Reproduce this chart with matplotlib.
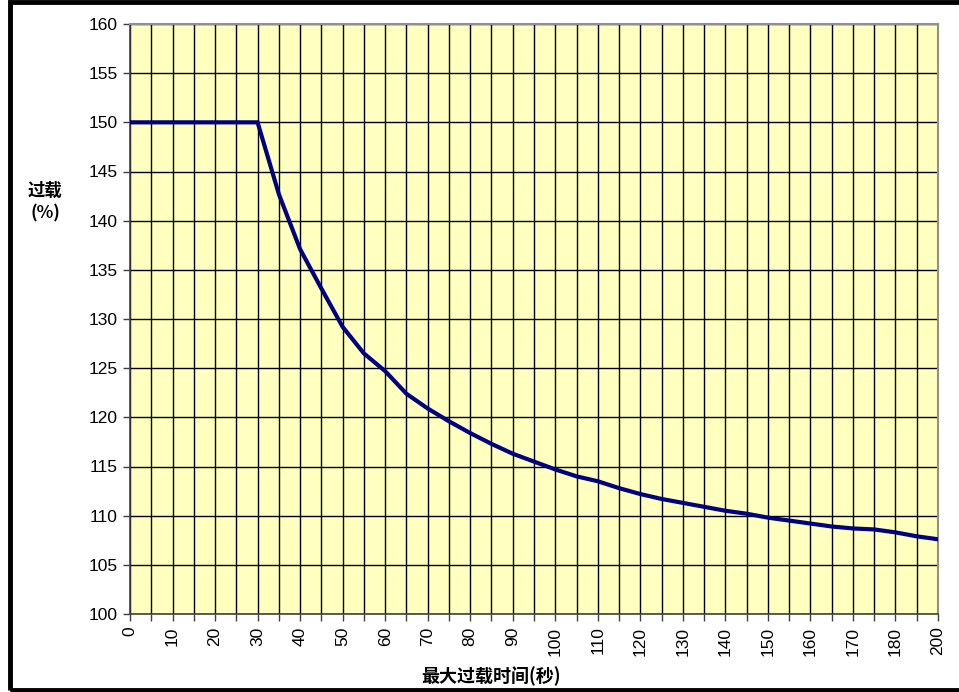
import numpy as np
import matplotlib.pyplot as plt
from matplotlib.patches import Rectangle

# categories on the x axis (seconds); Excel-style category axis, 190 replaces 185/195
seconds = [0, 5, 10, 15, 20, 25, 30, 35, 40, 45, 50, 55, 60, 65, 70, 75, 80, 85, 90,
           95, 100, 105, 110, 115, 120, 125, 130, 135, 140, 145, 150, 155, 160, 165,
           170, 175, 180, 190, 200]
overload = [150, 150, 150, 150, 150, 150, 150, 142.7, 137.1, 133.1, 129.2, 126.5,
            124.7, 122.4, 120.9, 119.6, 118.4, 117.3, 116.3, 115.5, 114.7, 114.0,
            113.5, 112.8, 112.2, 111.7, 111.3, 110.9, 110.5, 110.2, 109.8, 109.5,
            109.2, 108.9, 108.7, 108.6, 108.3, 107.9, 107.6]
y_ticks = list(range(100, 161, 5))

num_font = ['Liberation Sans', 'DejaVu Sans']
cjk_font = ['Noto Sans CJK SC', 'DejaVu Sans']

fig = plt.figure(figsize=(9.59, 6.92), dpi=100)
ax = fig.add_axes([130 / 959, 1 - 614 / 692, 808 / 959, 590 / 692])
ax.set_facecolor('#FFFFC0')

idx = np.arange(len(seconds))
ax.plot(idx, overload, color='#000080', linewidth=3, solid_joinstyle='miter', zorder=3)

ax.set_xlim(0, len(seconds) - 1)
ax.set_ylim(100, 160)
ax.set_xticks(idx)
ax.set_xticklabels([str(s) if i % 2 == 0 else '' for i, s in enumerate(seconds)],
                   rotation=90, family=num_font, fontsize=12.5)
ax.set_yticks(y_ticks)
ax.set_yticklabels([str(v) for v in y_ticks], family=num_font, fontsize=12.5)
ax.tick_params(axis='both', direction='out', length=5, width=1, color='#404040', pad=4)

ax.grid(True, color='black', linewidth=1, zorder=1)
ax.set_axisbelow(True)
for side in ['top', 'right']:
    ax.spines[side].set_color('#909090')
    ax.spines[side].set_linewidth(1.5)
for side in ['left', 'bottom']:
    ax.spines[side].set_color('#404040')
    ax.spines[side].set_linewidth(1.2)

fig.text(491 / 959, 1 - 676 / 692, '最大过载时间(秒)', ha='center', va='center',
         family=cjk_font, fontweight='bold', fontsize=13)
fig.text(45 / 959, 1 - 202 / 692, '过载\n(%)', ha='center', va='center',
         family=cjk_font, fontweight='bold', fontsize=12.5, linespacing=1.3)

# black frame round the figure
fig.patches.append(Rectangle((10 / 959, 2 / 692), 1.2, 1 - 4 / 692, transform=fig.transFigure,
                             fill=False, edgecolor='black', linewidth=3.5))

fig.savefig('out.png', dpi=100)
